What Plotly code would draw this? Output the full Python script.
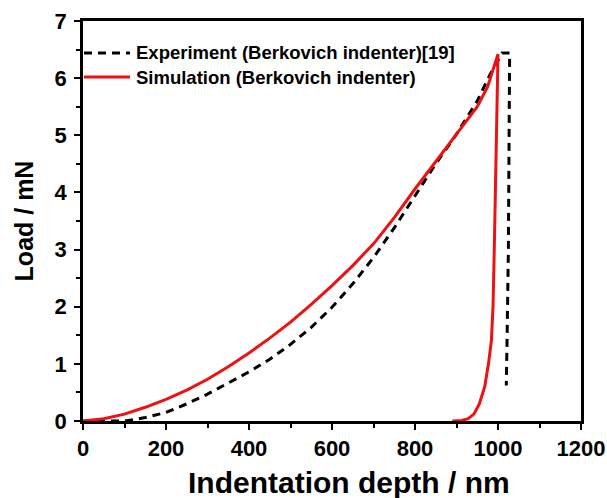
import plotly.graph_objects as go

# Load–depth curves (depth in nm, load in mN)
exp_depth = [0, 60, 100, 125, 150, 200, 250, 300, 350, 400, 450, 500, 550, 600, 650, 700,
             750, 800, 850, 900, 950, 980, 1010, 1028,
             1027, 1025, 1022, 1020]
exp_load = [0.0, 0.0, 0.0, 0.025, 0.06, 0.15, 0.3, 0.47, 0.66, 0.86, 1.08, 1.34, 1.64, 1.99, 2.4, 2.86,
            3.38, 3.95, 4.5, 5.02, 5.6, 6.05, 6.44, 6.44,
            5.0, 3.0, 1.5, 0.62]

sim_depth = [0, 50, 100, 150, 200, 250, 300, 350, 400, 450, 500, 550, 600, 650, 700,
             750, 800, 850, 900, 950, 975, 1000,
             997, 994, 991, 988, 984, 977, 968, 955, 942, 928, 912, 890]
sim_load = [0.0, 0.04, 0.12, 0.24, 0.38, 0.54, 0.73, 0.95, 1.19, 1.45, 1.73, 2.04, 2.37, 2.72, 3.1,
            3.56, 4.06, 4.55, 5.02, 5.5, 5.85, 6.42,
            5.0, 4.0, 3.0, 2.0, 1.4, 1.0, 0.6, 0.3, 0.12, 0.04, 0.01, 0.0]

legend_labels = ["Experiment (Berkovich indenter)[19]", "Simulation (Berkovich indenter)"]
x_title = "Indentation depth / nm"
y_title = "Load / mN"

FONT = "Liberation Sans, Arial, sans-serif"
RED = "#ee1111"
W, H = 607, 498
ML, MR, MT, MB = 83, 26, 21, 77
PW, PH = W - ML - MR, H - MT - MB

fig = go.Figure()
fig.add_trace(go.Scatter(x=exp_depth, y=exp_load, mode="lines", name=legend_labels[0],
                         line=dict(color="black", width=3, dash="8px,6px")))
fig.add_trace(go.Scatter(x=sim_depth, y=sim_load, mode="lines", name=legend_labels[1],
                         line=dict(color=RED, width=3)))

axis_common = dict(
    showline=True, linecolor="black", linewidth=2.5, mirror=True,
    ticks="outside", ticklen=6, tickwidth=2, tickcolor="black",
    showgrid=False, zeroline=False, automargin=False,
    tickfont=dict(family=FONT, size=22, color="black", weight="bold"),
)

fig.update_xaxes(range=[0, 1200], tick0=0, dtick=200,
                 minor=dict(dtick=100, ticks="outside", ticklen=4, tickwidth=2, tickcolor="black"),
                 **axis_common)
fig.update_yaxes(range=[0, 7], tick0=0, dtick=1, ticklabelstandoff=3,
                 minor=dict(dtick=0.5, ticks="outside", ticklen=4, tickwidth=2, tickcolor="black"),
                 title=dict(text=y_title, standoff=14,
                            font=dict(family=FONT, size=25, color="black", weight="bold")),
                 **axis_common)

# helpers converting pixel offsets to paper coordinates
def px_x(p):
    return (p - ML) / PW

def px_y(p):
    return (H - MB - p) / PH

# x-axis title, placed as a free annotation under the tick labels
fig.add_annotation(xref="paper", yref="paper", x=px_x(349), y=px_y(482),
                   xanchor="center", yanchor="middle", showarrow=False, text=x_title,
                   font=dict(family=FONT, size=30, color="black", weight="bold"))

# Legend drawn inside the plot box, top-left
legend_rows = [(53, dict(color="black", width=3, dash="8px,6px")),
               (77, dict(color=RED, width=3))]
for (row_y, line_style), label in zip(legend_rows, legend_labels):
    fig.add_shape(type="line", xref="paper", yref="paper",
                  x0=px_x(84), x1=px_x(130), y0=px_y(row_y), y1=px_y(row_y),
                  line=line_style)
    fig.add_annotation(xref="paper", yref="paper", x=px_x(134), y=px_y(row_y),
                       xanchor="left", yanchor="middle", showarrow=False,
                       text=label, font=dict(family=FONT, size=18.5, color="black", weight="bold"))

fig.update_layout(
    width=W, height=H,
    margin=dict(l=ML, r=MR, t=MT, b=MB),
    paper_bgcolor="white", plot_bgcolor="white",
    showlegend=False,
)

fig.write_html("out.html")
